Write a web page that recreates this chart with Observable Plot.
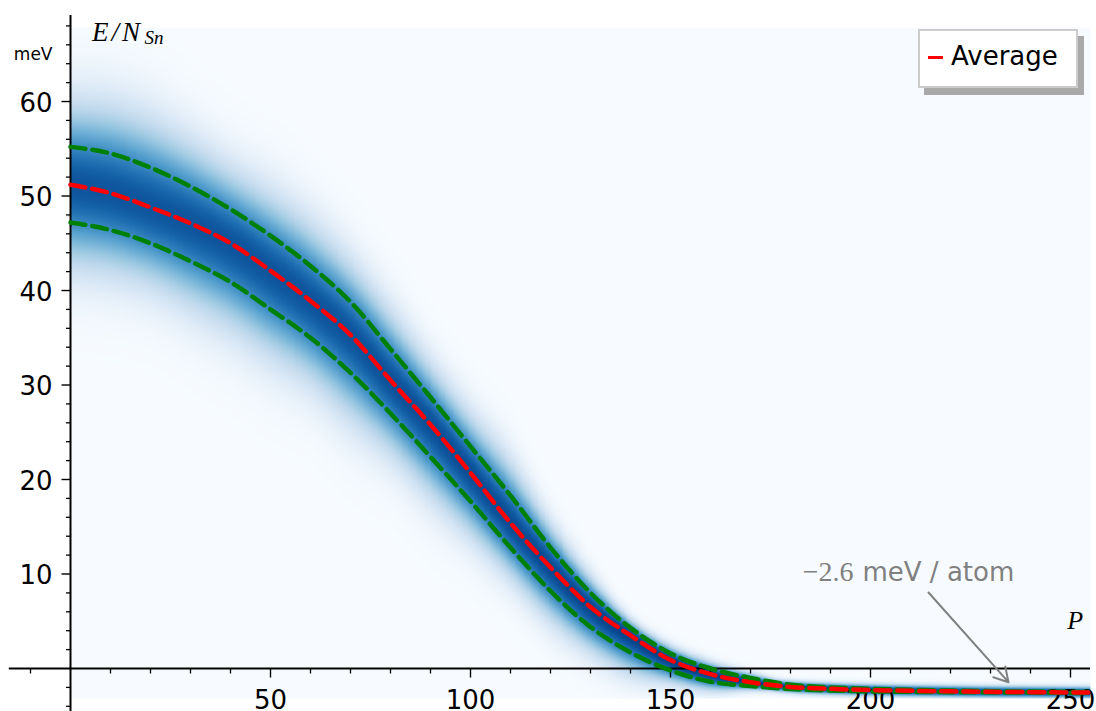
<!DOCTYPE html>
<html>
<head>
<meta charset="utf-8">
<script src="https://cdn.jsdelivr.net/npm/d3@7"></script>
<script src="https://cdn.jsdelivr.net/npm/@observablehq/plot@0.6"></script>
<style>
  body { margin: 0; background: #ffffff; }
  #wrap { position: relative; width: 1096px; height: 711px; overflow: hidden; }
  #legend { position: absolute; left: 918px; top: 29px; width: 160px; height: 59px; box-sizing: border-box;
            background: #ffffff; border: 2px solid #cccccc; box-shadow: 6px 7px 0 #a9a9a9; }
  #legend .swatch { position: absolute; left: 8px; top: 24.5px; width: 15px; height: 3.5px; background: #ff0000; }
  #legend .label { position: absolute; left: 31px; top: 12px; line-height: 26px; font-family: "DejaVu Sans"; font-size: 26px; color: #000; white-space: nowrap; }
</style>
</head>
<body>
<div id="wrap"></div>
<script>
// ---- data ----
const P = [0, 10, 20, 30, 40, 50, 60, 70, 80, 90, 100, 110, 120, 130, 140, 150, 160, 170, 180, 190, 200, 210, 220, 230, 240, 250, 255];
const average = [51.2, 50.3, 48.8, 47.1, 45.0, 42.1, 38.9, 35.3, 30.5, 25.8, 20.7, 15.4, 10.7, 6.5, 3.5, 0.9, -0.6, -1.45, -1.95, -2.15, -2.28, -2.36, -2.42, -2.47, -2.5, -2.53, -2.55];
const upper   = [55.2, 54.5, 53.0, 51.0, 48.6, 45.8, 42.6, 38.8, 33.8, 28.7, 23.5, 18.3, 12.8, 8.0, 4.3, 1.6, 0.0, -1.0, -1.72, -2.0, -2.15, -2.26, -2.34, -2.4, -2.44, -2.47, -2.49];
const lower   = [47.2, 46.4, 45.0, 43.1, 40.9, 38.0, 35.0, 31.3, 27.0, 22.4, 17.7, 12.8, 8.2, 4.4, 1.7, -0.2, -1.4, -1.85, -2.18, -2.33, -2.42, -2.47, -2.5, -2.53, -2.55, -2.58, -2.6];

const xTickLabels = [50, 100, 150, 200, 250];
const xMinorTicks = [-10, 10, 20, 30, 40, 60, 70, 80, 90, 110, 120, 130, 140, 160, 170, 180, 190, 210, 220, 230, 240];
const yTickLabels = [10, 20, 30, 40, 50, 60];
const yMinorTicks = [-4, -2, 2, 4, 6, 8, 12, 14, 16, 18, 22, 24, 26, 28, 32, 34, 36, 38, 42, 44, 46, 48, 52, 54, 56, 58, 62, 64, 66, 68];
const annotationValue = "\u22122.6";
const annotationUnit = "meV / atom";

// ---- table for the lines ----
const rows = P.map((p, i) => ({p, average: average[i], upper: upper[i], lower: lower[i]}));

// monotone (Steffen) interpolation, same family as Plot's monotone-x curve
function monotone(xs, ys) {
  const n = xs.length, h = [], s = [], t = new Array(n);
  for (let i = 0; i < n - 1; i++) { h[i] = xs[i + 1] - xs[i]; s[i] = (ys[i + 1] - ys[i]) / h[i]; }
  for (let i = 1; i < n - 1; i++) {
    const p = (s[i - 1] * h[i] + s[i] * h[i - 1]) / (h[i - 1] + h[i]);
    t[i] = (Math.sign(s[i - 1]) + Math.sign(s[i])) * Math.min(Math.abs(s[i - 1]), Math.abs(s[i]), 0.5 * Math.abs(p)) || 0;
  }
  t[0] = (3 * s[0] - t[1]) / 2;
  t[n - 1] = (3 * s[n - 2] - t[n - 2]) / 2;
  return (x) => {
    let i = 0;
    while (i < n - 2 && x > xs[i + 1]) i++;
    const hh = h[i], u = Math.max(0, Math.min(1, (x - xs[i]) / hh));
    const u2 = u * u, u3 = u2 * u;
    return (2 * u3 - 3 * u2 + 1) * ys[i] + (u3 - 2 * u2 + u) * hh * t[i] + (-2 * u3 + 3 * u2) * ys[i + 1] + (u3 - u2) * hh * t[i + 1];
  };
}
const fA = monotone(P, average), fU = monotone(P, upper), fL = monotone(P, lower);
const step = 0.25, nCols = Math.round(255 / step) + 1;
const colA = [], colU = [], colL = [];
for (let k = 0; k < nCols; k++) { const x = k * step; colA[k] = fA(x); colU[k] = fU(x); colL[k] = fL(x); }

function density(x, y) {
  const k = Math.max(0, Math.min(nCols - 1, Math.round(x / step)));
  const a = colA[k];
  const su = Math.max(colU[k] - a, 0.3), sl = Math.max(a - colL[k], 0.3);
  const z = (y - a) / (y > a ? su : sl);
  const sm = (su + sl) / 2;
  const t0 = 0.86 + 0.1 * Math.max(0, Math.min(1, (4 - sm) / 3.7));
  return t0 * Math.exp(-z * z / 3.6);
}

const tickSym = (dx, dy) => ({ draw(ctx) { ctx.moveTo(0, 0); ctx.lineTo(dx, dy); } });

const chart = Plot.plot({
  width: 1096,
  height: 711,
  margin: 0,
  x: { domain: [-17.5, 256.5], axis: null },
  y: { domain: [-4.55, 70.69], axis: null },
  color: { type: "linear", domain: [0, 1], interpolate: d3.interpolateBlues, clamp: true },
  style: { background: "#ffffff", fontFamily: "DejaVu Sans" },
  marks: [
    Plot.raster({ fill: density, x1: 0, x2: 255, y1: -3.17, y2: 67.83, pixelSize: 1 }),
    // axes
    Plot.ruleY([0], { x1: -15.3, x2: 255, stroke: "#000", strokeWidth: 2 }),
    Plot.ruleX([0], { y1: -4.55, y2: 69.1, stroke: "#000", strokeWidth: 2 }),
    Plot.dot(xMinorTicks, { x: d => d, y: 0, symbol: tickSym(0, 5), fill: "none", stroke: "#000", strokeWidth: 1.3 }),
    Plot.dot(xTickLabels, { x: d => d, y: 0, symbol: tickSym(0, 9), fill: "none", stroke: "#000", strokeWidth: 1.4 }),
    Plot.dot(yMinorTicks, { x: 0, y: d => d, symbol: tickSym(-4.5, 0), fill: "none", stroke: "#000", strokeWidth: 1.3 }),
    Plot.dot(yTickLabels, { x: 0, y: d => d, symbol: tickSym(-9, 0), fill: "none", stroke: "#000", strokeWidth: 1.4 }),
    Plot.text(xTickLabels, { x: d => d, y: 0, dy: 32, text: d => String(d), fontSize: 26, fill: "#000" }),
    Plot.text(yTickLabels, { x: 0, y: d => d, dx: -18, dy: 2, text: d => String(d), textAnchor: "end", fontSize: 26, fill: "#000" }),
    // axis labels
    Plot.text(["meV"], { x: 0, y: 65.0, dx: -18, text: d => d, textAnchor: "end", fontSize: 17, fill: "#000" }),
    Plot.text(["E/N"], { x: 5.4, y: 67.37, text: d => d, textAnchor: "start", fontSize: 27, fontFamily: "Liberation Serif", fontStyle: "italic", fill: "#000" }),
    Plot.text(["Sn"], { x: 18.5, y: 66.75, text: d => d, textAnchor: "start", fontSize: 19, fontFamily: "Liberation Serif", fontStyle: "italic", fill: "#000" }),
    Plot.text(["P"], { x: 251.2, y: 5.04, text: d => d, textAnchor: "middle", fontSize: 26, fontFamily: "Liberation Serif", fontStyle: "italic", fill: "#000" }),
    // curves
    Plot.line(rows, { x: "p", y: "upper", curve: "monotone-x", stroke: "#008000", strokeWidth: 4.5, strokeDasharray: "15,7" }),
    Plot.line(rows, { x: "p", y: "lower", curve: "monotone-x", stroke: "#008000", strokeWidth: 4.5, strokeDasharray: "15,7" }),
    Plot.line(rows, { x: "p", y: "average", curve: "monotone-x", stroke: "#ff0000", strokeWidth: 4.5, strokeDasharray: "15,7" }),
    // annotation
    Plot.text([annotationValue], { x: 195.75, y: 10.19, text: d => d, textAnchor: "end", fontSize: 28, fontFamily: "Liberation Serif", fill: "#808080" }),
    Plot.text([annotationUnit], { x: 198.0, y: 10.19, text: d => d, textAnchor: "start", fontSize: 26, fill: "#808080" }),
    Plot.arrow([annotationUnit], { x1: 214.5, y1: 8.04, x2: 234.5, y2: -1.45, stroke: "#808080", strokeWidth: 2, headLength: 12, bend: 0 })
  ]
});

d3.select(chart).selectAll("text").filter(function () { return this.textContent === "E/N"; }).attr("letter-spacing", "3px");

const wrap = document.getElementById("wrap");
wrap.appendChild(chart);
const legend = document.createElement("div");
legend.id = "legend";
legend.innerHTML = '<div class="swatch"></div><div class="label">Average</div>';
wrap.appendChild(legend);
</script>
</body>
</html>
